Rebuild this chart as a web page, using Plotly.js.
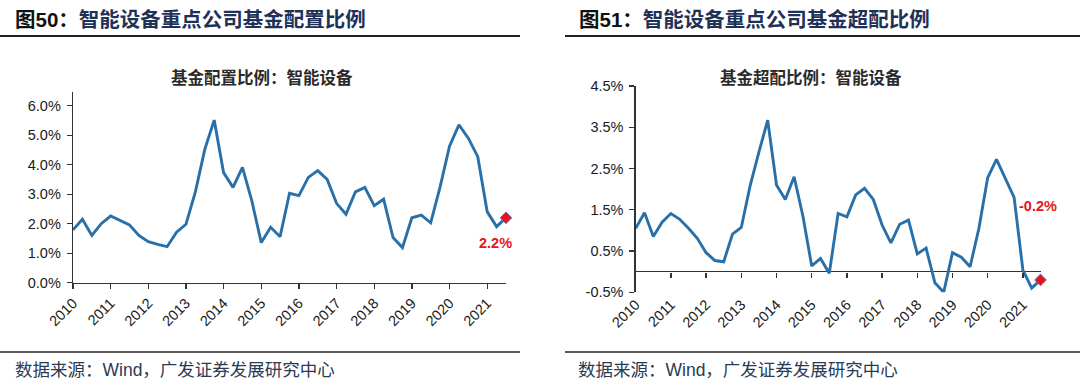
<!DOCTYPE html>
<html>
<head>
<meta charset="utf-8">
<script src="https://cdn.plot.ly/plotly-3.0.1.min.js"></script>
<style>
html,body{margin:0;padding:0;background:#fff;}
#chart{width:1080px;height:389px;}
</style>
</head>
<body>
<div id="chart"></div>
<script>
// ---- data ----
const quarters = [
  "2010Q1","2010Q2","2010Q3","2010Q4","2011Q1","2011Q2","2011Q3","2011Q4",
  "2012Q1","2012Q2","2012Q3","2012Q4","2013Q1","2013Q2","2013Q3","2013Q4",
  "2014Q1","2014Q2","2014Q3","2014Q4","2015Q1","2015Q2","2015Q3","2015Q4",
  "2016Q1","2016Q2","2016Q3","2016Q4","2017Q1","2017Q2","2017Q3","2017Q4",
  "2018Q1","2018Q2","2018Q3","2018Q4","2019Q1","2019Q2","2019Q3","2019Q4",
  "2020Q1","2020Q2","2020Q3","2020Q4","2021Q1","2021Q2","2021Q3"
];
const yearTickVals = ["2010Q1","2011Q1","2012Q1","2013Q1","2014Q1","2015Q1","2016Q1","2017Q1","2018Q1","2019Q1","2020Q1","2021Q1"];
const yearTickText = ["2010","2011","2012","2013","2014","2015","2016","2017","2018","2019","2020","2021"];

// 基金配置比例 (%)
const allocation = [1.79,2.15,1.60,2.00,2.26,2.12,1.96,1.60,1.39,1.30,1.22,1.71,1.98,3.08,4.52,5.51,
  3.73,3.23,3.91,2.77,1.36,1.88,1.56,3.03,2.95,3.57,3.80,3.50,2.69,2.32,3.08,3.23,
  2.61,2.83,1.53,1.19,2.20,2.29,2.03,3.25,4.63,5.35,4.90,4.27,2.41,1.90,2.20];
// 基金超配比例 (%)
const overweight = [1.05,1.43,0.85,1.20,1.41,1.27,1.05,0.81,0.46,0.27,0.24,0.91,1.07,2.08,2.90,3.67,
  2.10,1.75,2.30,1.35,0.14,0.32,-0.04,1.41,1.33,1.86,2.02,1.75,1.13,0.70,1.15,1.25,
  0.43,0.57,-0.27,-0.50,0.46,0.35,0.12,1.05,2.28,2.72,2.26,1.80,0.04,-0.40,-0.20];

const leftRange = [0, 6.45];
const rightRange = [-0.5, 4.5];

// ---- layout helpers ----
const W = 1080, H = 389;
const fx = p => p / W;
const fy = p => 1 - p / H;

const lineColor = '#2a70a8';
const axisColor = '#333';
const tickFont = {family: 'Liberation Sans, Arial, sans-serif', size: 14.5, color: '#1a1a1a'};
const cjk = 'Noto Sans CJK SC, sans-serif';

const yDomL = [fy(282.7), fy(92.4)];
const yDomR = [fy(292.3), fy(86)];
const zeroPos = yDomR[0] + (0 - rightRange[0]) / (rightRange[1] - rightRange[0]) * (yDomR[1] - yDomR[0]);

const n = quarters.length;
const lastQ = quarters[n - 1];

const traces = [
  {x: quarters, y: allocation, xaxis: 'x', yaxis: 'y', mode: 'lines',
   line: {color: lineColor, width: 2.9}, hoverinfo: 'x+y', showlegend: false},
  {x: [lastQ], y: [allocation[n - 1]], xaxis: 'x', yaxis: 'y', mode: 'markers', cliponaxis: false,
   marker: {symbol: 'diamond', size: 9, color: '#e8141c', line: {color: '#5a78b8', width: 1}}, showlegend: false},
  {x: quarters, y: overweight, xaxis: 'x2', yaxis: 'y2', mode: 'lines',
   line: {color: lineColor, width: 2.9}, hoverinfo: 'x+y', showlegend: false},
  {x: quarters, y: overweight, xaxis: 'x3', yaxis: 'y2', mode: 'lines',
   line: {color: 'rgba(0,0,0,0)', width: 0}, hoverinfo: 'skip', showlegend: false},
  {x: [lastQ], y: [overweight[n - 1]], xaxis: 'x2', yaxis: 'y2', mode: 'markers', cliponaxis: false,
   marker: {symbol: 'diamond', size: 9, color: '#e8141c', line: {color: '#5a78b8', width: 1}}, showlegend: false}
];

const baseX = {
  type: 'category', range: [0, n - 1], tickmode: 'array', tickvals: yearTickVals, ticktext: yearTickText,
  tickangle: -45, tickfont: tickFont, showgrid: false, zeroline: false, fixedrange: true
};

const layout = {
  width: W, height: H,
  margin: {l: 0, r: 0, t: 0, b: 0},
  paper_bgcolor: '#fff', plot_bgcolor: 'rgba(0,0,0,0)',
  showlegend: false,
  xaxis: Object.assign({}, baseX, {domain: [fx(73), fx(506)], anchor: 'y',
    showline: true, linecolor: axisColor, linewidth: 1.3, ticks: 'outside', ticklen: 5, tickcolor: axisColor, tickwidth: 1.3}),
  yaxis: {domain: yDomL, anchor: 'x', range: leftRange, tickmode: 'array', tickvals: [0,1,2,3,4,5,6],
    ticktext: ['0.0%','1.0%','2.0%','3.0%','4.0%','5.0%','6.0%'], ticklabelstandoff: 3,
    showline: true, linecolor: axisColor, linewidth: 1.3, ticks: 'outside', ticklen: 5, tickcolor: axisColor, tickwidth: 1.3,
    showgrid: false, zeroline: false, tickfont: tickFont, fixedrange: true},
  xaxis2: Object.assign({}, baseX, {domain: [fx(635.7), fx(1040.5)], anchor: 'y2',
    showline: false, ticks: ''}),
  xaxis3: Object.assign({}, baseX, {overlaying: 'x2', anchor: 'free', position: zeroPos,
    showline: false, showticklabels: false, ticks: 'outside', ticklen: 5, tickcolor: axisColor, tickwidth: 1.3}),
  yaxis2: {domain: yDomR, anchor: 'x2', range: rightRange, tickmode: 'array', tickvals: [-0.5,0.5,1.5,2.5,3.5,4.5],
    ticktext: ['-0.5%','0.5%','1.5%','2.5%','3.5%','4.5%'], ticklabelstandoff: 3,
    showline: true, linecolor: axisColor, linewidth: 1.3, ticks: 'outside', ticklen: 5, tickcolor: axisColor, tickwidth: 1.3,
    showgrid: false, zeroline: true, zerolinecolor: axisColor, zerolinewidth: 1.3, tickfont: tickFont, fixedrange: true},
  shapes: [
    {type: 'line', xref: 'paper', yref: 'paper', x0: 0, x1: fx(520), y0: fy(36), y1: fy(36), line: {color: '#222', width: 2}},
    {type: 'line', xref: 'paper', yref: 'paper', x0: fx(565), x1: 1, y0: fy(36), y1: fy(36), line: {color: '#222', width: 2}},
    {type: 'line', xref: 'paper', yref: 'paper', x0: 0, x1: fx(520), y0: fy(352), y1: fy(352), line: {color: '#222', width: 1.5}},
    {type: 'line', xref: 'paper', yref: 'paper', x0: fx(565), x1: 1, y0: fy(352), y1: fy(352), line: {color: '#222', width: 1.5}}
  ],
  annotations: [
    {xref: 'paper', yref: 'paper', x: fx(13), y: fy(19), xanchor: 'left', yanchor: 'middle', showarrow: false,
     text: '<b><span style="color:#111">图50：</span>智能设备重点公司基金配置比例</b>',
     font: {family: 'Liberation Sans, ' + cjk, size: 20.5, color: '#1f3157'}},
    {xref: 'paper', yref: 'paper', x: fx(577), y: fy(19), xanchor: 'left', yanchor: 'middle', showarrow: false,
     text: '<b><span style="color:#111">图51：</span>智能设备重点公司基金超配比例</b>',
     font: {family: 'Liberation Sans, ' + cjk, size: 20.5, color: '#1f3157'}},
    {xref: 'paper', yref: 'paper', x: fx(262), y: fy(77), xanchor: 'center', yanchor: 'middle', showarrow: false,
     text: '<b>基金配置比例：智能设备</b>', font: {family: cjk, size: 16.5, color: '#2a2a2a'}},
    {xref: 'paper', yref: 'paper', x: fx(811), y: fy(77), xanchor: 'center', yanchor: 'middle', showarrow: false,
     text: '<b>基金超配比例：智能设备</b>', font: {family: cjk, size: 16.5, color: '#2a2a2a'}},
    {xref: 'x', yref: 'y', x: lastQ, y: allocation[n - 1], xshift: -11, yshift: -25, showarrow: false,
     text: '<b>' + allocation[n - 1].toFixed(1) + '%</b>', font: {family: 'Liberation Sans, Arial, sans-serif', size: 14.5, color: '#e8141c'}},
    {xref: 'x2', yref: 'y2', x: lastQ, y: overweight[n - 1], xshift: -3, yshift: 74, showarrow: false,
     text: '<b>' + overweight[n - 1].toFixed(1) + '%</b>', font: {family: 'Liberation Sans, Arial, sans-serif', size: 14.5, color: '#e8141c'}},
    {xref: 'paper', yref: 'paper', x: fx(13), y: fy(370), xanchor: 'left', yanchor: 'middle', showarrow: false,
     text: '数据来源：Wind，广发证券发展研究中心', font: {family: 'Liberation Sans, ' + cjk, size: 17.5, color: '#2b3a55'}},
    {xref: 'paper', yref: 'paper', x: fx(576), y: fy(370), xanchor: 'left', yanchor: 'middle', showarrow: false,
     text: '数据来源：Wind，广发证券发展研究中心', font: {family: 'Liberation Sans, ' + cjk, size: 17.5, color: '#2b3a55'}}
  ]
};

Plotly.newPlot('chart', traces, layout, {displayModeBar: false, staticPlot: true});
</script>
</body>
</html>
